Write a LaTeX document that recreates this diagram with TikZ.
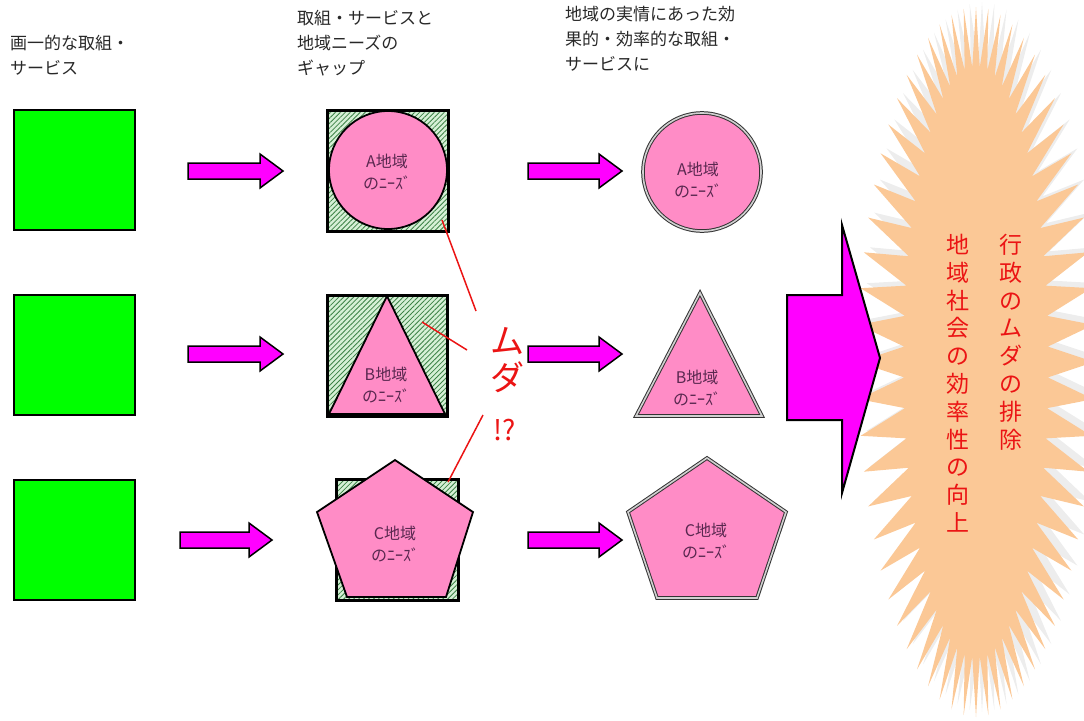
\documentclass[tikz,border=0pt]{standalone}
\usepackage{fontspec}
\setmainfont{Noto Sans CJK JP}
\usetikzlibrary{patterns.meta}
\definecolor{grn}{RGB}{0,255,0}
\definecolor{mag}{RGB}{255,0,255}
\definecolor{pnk}{RGB}{255,140,198}
\definecolor{hatchbg}{RGB}{214,240,214}
\definecolor{hatchln}{RGB}{60,130,70}
\definecolor{peach}{RGB}{251,200,150}
\definecolor{txtdark}{RGB}{90,40,80}
\definecolor{mudared}{RGB}{235,20,20}
\definecolor{headgray}{RGB}{40,40,40}
\newcommand{\blockarrow}[3]{% x start, y center, length
  \draw[arrowstyle] (#1,#2) ++(0,-8) -- ++(#3-23,0) -- ++(0,-9) -- ++(23,17) -- ++(-23,17) -- ++(0,-9) -- ++(-#3+23,0) -- cycle;}
\begin{document}
\begin{tikzpicture}[x=1pt,y=-1pt,
  greensq/.style={fill=grn, draw=black, line width=2.5pt},
  hatchsq/.style={fill=hatchbg, postaction={pattern={Lines[angle=45,distance=3.5pt,line width=0.8pt]}, pattern color=hatchln}},
  sqborder/.style={draw=black, line width=3pt},
  needshape/.style={fill=pnk, draw=black, line width=1.8pt, line join=miter},
  goodshape/.style={fill=pnk, draw=black!80, line width=1pt, double=black!18, double distance=1.6pt},
  arrowstyle/.style={fill=mag, draw=black, line width=1.5pt, line join=miter},
  bigarrow/.style={fill=mag, draw=black, line width=2pt, line join=miter},
  heading/.style={anchor=north west, align=left, inner sep=0pt, text=headgray, font=\fontsize{17}{25}\selectfont},
  inside/.style={align=center, inner sep=0pt, text=txtdark, font=\fontsize{16}{22}\selectfont},
  redv/.style={anchor=north, align=center, inner sep=0pt, text=mudared, font=\fontsize{23}{27.8}\selectfont},
  mudaline/.style={draw=mudared, line width=1.5pt},
]
\useasboundingbox (0,0) rectangle (1084,720);

% headings
\node[heading] (h1) at (10,35) {画一的な取組・\\サービス};
\node[heading] (h2) at (297,10) {取組・サービスと\\地域ニーズの\\ギャップ};
\node[heading] (h3) at (565,6) {地域の実情にあった効\\果的・効率的な取組・\\サービスに};

% green squares
\draw[greensq] (14,110) rectangle (135,230);
\draw[greensq] (14,295) rectangle (135,415);
\draw[greensq] (14,480) rectangle (135,600);

% small arrows
\blockarrow{188}{171}{95}
\blockarrow{188}{354}{95}
\blockarrow{180}{540}{92}
\blockarrow{528}{171}{94}
\blockarrow{528}{354}{94}
\blockarrow{528}{540}{94}

% middle column
\fill[hatchsq] (327,110) rectangle (448,231);
\draw[sqborder] (327,110) rectangle (448,231);
\draw[needshape] (388,170) circle[radius=59pt];
\node[inside] (ma) at (387,172) {A地域\\のﾆｰｽﾞ};

\fill[hatchsq] (327,295) rectangle (447,416);
\draw[sqborder] (327,295) rectangle (447,416);
\draw[needshape] (387,296) -- (445,414) -- (329,414) -- cycle;
\node[inside] (mb) at (386,385) {B地域\\のﾆｰｽﾞ};

\fill[hatchsq] (336,479) rectangle (458,600);
\draw[sqborder] (336,479) rectangle (458,600);
\draw[needshape] (395,460) -- (473,512) -- (446,597) -- (347,597) -- (317,512) -- cycle;
\node[inside] (mc) at (395,544) {C地域\\のﾆｰｽﾞ};

% right column
\draw[goodshape] (702,172) circle[radius=59pt];
\node[inside] (ra) at (698,180) {A地域\\のﾆｰｽﾞ};
\draw[goodshape] (700,293) -- (762,416) -- (636,416) -- cycle;
\node[inside] (rb) at (697,388) {B地域\\のﾆｰｽﾞ};
\draw[goodshape] (707,458) -- (786,512) -- (757,598) -- (657,598) -- (628,512) -- cycle;
\node[inside] (rc) at (706,541) {C地域\\のﾆｰｽﾞ};

% muda lines and text
\node[text=mudared, align=center, inner sep=0pt, font=\fontsize{34}{37}\selectfont] (muda) at (507,360) {ム\\ダ};
\node[text=mudared, inner sep=0pt, font=\fontsize{28}{30}\selectfont] (q) at (505,430) {!?};
\coordinate (l1a) at (442,220);
\coordinate (l1b) at (476,311);
\coordinate (l2a) at (422,322);
\coordinate (l2b) at (467,350);
\coordinate (l3a) at (483,415);
\coordinate (l3b) at (448,482);
\draw[mudaline] (l1a) -- (l1b);
\draw[mudaline] (l2a) -- (l2b);
\draw[mudaline] (l3a) -- (l3b);

% starburst (shadow + body)
\fill[black!7] plot[samples at={0,1,...,119}, variable=\t]
  ({982 + (mod(\t,2)==0 ? 118 : 72)*cos(\t*3)}, {357 + (mod(\t,2)==0 ? 355 : 295)*sin(\t*3)}) -- cycle;
\fill[peach] plot[samples at={0,1,...,119}, variable=\t]
  ({976 + (mod(\t,2)==0 ? 118 : 72)*cos(\t*3)}, {362 + (mod(\t,2)==0 ? 355 : 295)*sin(\t*3)}) -- cycle;

% big arrow
\draw[bigarrow] (787,295) -- (842,295) -- (842,225) -- (880,358) -- (842,493) -- (842,420) -- (787,420) -- cycle;

% vertical texts
\node[redv] (v1) at (1011,234) {行\\政\\の\\ム\\ダ\\の\\排\\除};
\node[redv] (v2) at (958,234) {地\\域\\社\\会\\の\\効\\率\\性\\の\\向\\上};
\end{tikzpicture}
\end{document}
